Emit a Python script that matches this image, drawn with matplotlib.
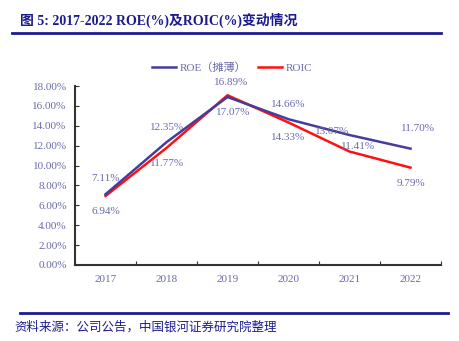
import matplotlib
matplotlib.use('Agg')
import matplotlib.pyplot as plt
from matplotlib.lines import Line2D
from matplotlib.ticker import FuncFormatter

plt.rcParams['font.family'] = ['Liberation Serif', 'Noto Sans CJK SC']

# Dados
years = ['2017', '2018', '2019', '2020', '2021', '2022']
roe = [7.11, 12.35, 16.89, 14.66, 13.07, 11.70]
roic = [6.94, 11.77, 17.07, 14.33, 11.41, 9.79]

# deslocamento dos rótulos (pixels)
roe_off = [(0, 16), (1, 15), (4, 15), (0, 15), (-17, 4), (7, 20)]
roic_off = [(0, -16), (1, -16), (6, -17), (0, -15), (9, 5), (0, -16)]

navy = '#1c1c8f'
txt = '#6a6aad'
roe_color = '#463c9c'
roic_color = '#ff1010'

fig = plt.figure(figsize=(4.59, 3.41), dpi=100)
ax = fig.add_axes([75 / 459, 1 - 265 / 341, 366 / 459, (265 - 86) / 341])

x = list(range(len(years)))
ax.plot(x, roe, color=roe_color, lw=1.8, label='ROE（摊薄）', zorder=3)
ax.plot(x, roic, color=roic_color, lw=1.8, label='ROIC', zorder=2)

for i in x:
    ax.annotate(f'{roe[i]:.2f}%', (i, roe[i]), xytext=roe_off[i], textcoords='offset pixels',
                ha='center', va='center', fontsize=8, color=txt)
    ax.annotate(f'{roic[i]:.2f}%', (i, roic[i]), xytext=roic_off[i], textcoords='offset pixels',
                ha='center', va='center', fontsize=8, color=txt)

ax.set_xlim(-0.5, 5.5)
ax.set_ylim(0, 18)
ax.set_yticks([0, 2, 4, 6, 8, 10, 12, 14, 16, 18])
ax.yaxis.set_major_formatter(FuncFormatter(lambda v, p: f'{v:.2f}%'))
ax.set_xticks([i - 0.5 for i in range(7)])
ax.set_xticklabels([])
ax.set_xticks(x, minor=True)
ax.set_xticklabels(years, minor=True)
ax.tick_params(axis='x', which='minor', length=0, pad=7, labelsize=8, labelcolor=txt)
ax.tick_params(axis='x', which='major', direction='in', length=3, color='#333333')
ax.tick_params(axis='y', direction='in', length=3, color='#333333', labelsize=8, labelcolor=txt, pad=6)

for s in ['top', 'right']:
    ax.spines[s].set_visible(False)
for s in ['left', 'bottom']:
    ax.spines[s].set_color('#333333')
    ax.spines[s].set_linewidth(1.5)

fig.legend(loc='center', bbox_to_anchor=(232 / 459, 1 - 68 / 341), ncol=2, frameon=False,
           fontsize=8, labelcolor=txt, handlelength=2.2, columnspacing=1.0, handletextpad=0.3)

# titulo e fonte
fig.text(20 / 459, 1 - 20 / 341, '图 5: 2017-2022 ROE(%)及ROIC(%)变动情况', fontsize=10,
         fontweight='bold', color=navy, ha='left', va='center')
fig.add_artist(Line2D([12 / 459, 441 / 459], [1 - 33 / 341] * 2, color=navy, lw=2))
fig.add_artist(Line2D([20 / 459, 448 / 459], [1 - 313 / 341] * 2, color=navy, lw=2))
fig.text(14 / 459, 1 - 327 / 341, '资料来源：公司公告，中国银河证券研究院整理', fontsize=9,
         style='italic', color=navy, ha='left', va='center')

fig.savefig('out.png', dpi=100)
